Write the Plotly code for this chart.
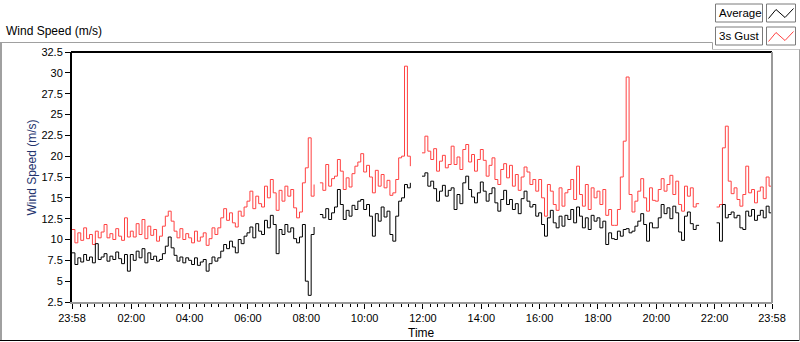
import plotly.graph_objects as go

# ---------------- data (6-minute samples starting 23:58) ----------------
step_minutes = 6
average = [
    8.4, 7.0, 7.8, 7.3, 8.2, 7.5, 7.9, 7.2, 9.5, 7.6,
    7.9, 8.3, 7.4, 8.0, 7.6, 8.5, 7.7, 7.1, 8.2, 6.2,
    8.2, 7.5, 8.6, 7.8, 8.9, 7.2, 8.4, 7.6, 8.0, 7.4,
    7.6, 8.3, 9.2, 10.3, 9.0, 8.1, 7.4, 7.9, 7.2, 7.8,
    7.5, 7.0, 7.8, 6.9, 7.3, 7.6, 6.2, 7.1, 7.9, 7.4,
    7.8, 8.6, 9.4, 8.9, 9.8, 9.1, 8.4, 10.0, 9.5, 10.4,
    10.8, 11.5, 10.2, 11.9, 11.0, 10.6, 12.3, 11.4, 12.9, 11.8,
    8.3, 11.2, 10.6, 11.8, 10.9, 11.4, 10.1, 9.6, 10.3, 11.8,
    5.0, 3.3, 10.6, 11.5, None, 13.0, 12.6, 13.7, 12.4, 13.2,
    13.9, 16.0, 14.2, 12.4, 13.5, 12.8, 14.1, 13.6, 14.6, 14.8,
    13.6, 14.2, 12.8, 10.4, 13.1, 12.2, 13.9, 12.7, 13.4, 10.6,
    9.8, 12.8, 14.6, 15.0, 16.6, 16.2, 16.8, None, None, None,
    17.6, 18.0, 16.4, 17.0, 16.1, 14.6, 15.8, 16.5, 15.2, 15.9,
    16.2, 13.6, 15.4, 14.3, 16.8, 17.6, 16.0, 15.1, 14.4, 15.6,
    16.9, 15.8, 14.6, 15.5, 16.2, 14.4, 13.4, 14.8, 15.9, 14.2,
    14.8, 13.6, 14.3, 13.1, 14.9, 15.8, 14.6, 13.9, 14.2, 12.8,
    13.2, 11.8, 10.4, 12.6, 13.5, 12.0, 11.4, 12.8, 11.6, 12.9,
    12.4, 13.6, 12.0, 13.9, 12.8, 11.4, 12.6, 11.2, 12.9, 12.2,
    12.6, 11.4, 12.2, 9.4, 10.8, 10.1, 10.0, 11.0, 10.4, 11.2,
    11.3, 10.8, 11.0, 11.6, 12.2, 13.1, 11.8, 9.8, 12.0, 11.4,
    11.4, 12.6, 14.2, 13.1, 13.8, 12.5, 14.0, 13.2, 10.9, 9.9,
    12.8, 13.3, 11.9, 11.2, 11.7, 11.7, None, None, None, None,
    None, 12.0, 9.8, 14.2, 12.6, 13.0, 13.3, 12.6, 12.9, 11.4,
    11.2, 13.4, 12.8, 13.6, 12.3, 12.9, 13.5, 12.6, 14.0, 13.2,
    13.6,
]
gust_3s = [
    11.2, 9.6, 10.8, 9.9, 11.4, 10.1, 10.6, 9.4, 11.0, 10.2,
    10.9, 11.8, 10.2, 10.7, 10.0, 11.3, 10.4, 9.9, 12.6, 10.3,
    11.0, 10.3, 11.9, 10.6, 12.4, 10.1, 11.6, 10.5, 11.2, 9.8,
    10.4, 11.6, 12.8, 13.4, 12.2, 11.0, 10.2, 11.3, 10.0, 10.7,
    10.2, 9.6, 11.0, 9.8, 10.3, 10.8, 9.3, 10.1, 11.4, 10.6,
    11.4, 12.6, 13.7, 12.3, 13.2, 12.0, 11.5, 13.4, 12.8, 13.9,
    14.6, 15.8, 13.7, 15.2, 14.3, 13.9, 16.4, 15.0, 17.2, 15.6,
    13.5, 15.9, 14.6, 16.4, 15.2, 16.0, 13.8, 12.6, 13.3, 16.8,
    18.6, 22.2, 15.2, 16.6, None, 16.8, 15.9, 19.0, 16.4, 17.3,
    17.6, 19.6, 18.2, 16.0, 17.4, 16.3, 17.9, 18.8, 19.3, 20.3,
    18.1, 18.9, 17.5, 15.6, 18.3, 16.4, 17.8, 16.2, 17.1, 15.3,
    15.6, 17.2, 19.8, 20.0, 30.8, 20.0, 18.8, None, None, None,
    20.4, 22.4, 20.6, 19.6, 20.9, 18.2, 19.4, 20.1, 18.6, 19.0,
    21.2, 19.0, 19.9, 18.4, 20.8, 21.4, 19.3, 20.2, 18.2, 19.6,
    20.8, 19.5, 17.6, 18.9, 19.8, 17.2, 16.6, 18.4, 19.1, 17.4,
    18.9, 16.4, 17.8, 15.9, 17.5, 18.7, 18.1, 16.6, 17.2, 15.8,
    17.2, 15.0, 12.8, 16.6, 15.8, 14.2, 13.5, 16.2, 14.0, 15.6,
    16.0, 17.2, 14.8, 18.8, 15.4, 14.0, 16.6, 13.6, 16.2, 15.0,
    15.8, 14.2, 16.0, 12.9, 13.6, 11.7, 11.7, 13.6, 17.5, 21.8,
    29.5, 15.4, 13.3, 14.6, 15.8, 17.3, 15.0, 13.4, 16.2, 14.7,
    14.6, 16.0, 17.3, 15.8, 16.6, 17.7, 15.4, 17.0, 14.2, 13.4,
    16.4, 15.2, 16.2, 13.9, 14.3, 14.3, None, None, None, None,
    None, 13.9, 14.2, 21.0, 23.6, 17.0, 15.5, 16.2, 14.8, 14.0,
    15.4, 18.8, 15.6, 16.0, 14.4, 15.8, 16.3, 14.9, 17.5, 16.4,
    16.8,
]
# minutes elapsed since 23:58
minutes = [i * step_minutes for i in range(len(average))]

x_tick_minutes = [0, 122, 242, 362, 482, 602, 722, 842, 962, 1082, 1202, 1322, 1440]
x_tick_labels = ["23:58", "02:00", "04:00", "06:00", "08:00", "10:00", "12:00",
                 "14:00", "16:00", "18:00", "20:00", "22:00", "23:58"]
y_ticks = [2.5, 5, 7.5, 10, 12.5, 15, 17.5, 20, 22.5, 25, 27.5, 30, 32.5]
y_tick_labels = ["2.5", "5", "7.5", "10", "12.5", "15", "17.5", "20", "22.5",
                 "25", "27.5", "30", "32.5"]
series_names = ["Average", "3s Gust"]
series_colors = ["#000000", "#ff4242"]

# ---------------- figure ----------------
L, T, W, H = 72, 52, 700, 250
FIG_W, FIG_H = 800, 342


def px(x):
    return (x - L) / W


def py(y):
    return (T + H - y) / H


FONT = "Liberation Sans, Arial, sans-serif"

fig = go.Figure()
fig.add_trace(go.Scatter(x=minutes, y=gust_3s, mode="lines", name=series_names[1],
                         line=dict(color=series_colors[1], width=1, shape="hv"),
                         connectgaps=False))
fig.add_trace(go.Scatter(x=minutes, y=average, mode="lines", name=series_names[0],
                         line=dict(color=series_colors[0], width=1, shape="hv"),
                         connectgaps=False))

fig.update_layout(
    width=FIG_W, height=FIG_H,
    margin=dict(l=L, r=FIG_W - L - W, t=T, b=FIG_H - T - H),
    paper_bgcolor="white", plot_bgcolor="white",
    showlegend=False,
    font=dict(family=FONT, size=11, color="#000000"),
)
fig.update_xaxes(
    range=[0, 1440], tickmode="array", tickvals=x_tick_minutes, ticktext=x_tick_labels,
    ticks="outside", ticklen=5, tickwidth=1, tickcolor="#000000",
    showline=True, linecolor="#9a9a9a", linewidth=2,
    showgrid=False, zeroline=False,
    tickfont=dict(family=FONT, size=11, color="#000000"),
    minor=dict(ticks="outside", ticklen=3, tickwidth=1, tickcolor="#000000",
               tickmode="linear", tick0=2, dtick=15, showgrid=False),
)
fig.update_yaxes(
    range=[2.5, 32.5], tickmode="array", tickvals=y_ticks, ticktext=y_tick_labels,
    ticks="outside", ticklen=5, tickwidth=1, tickcolor="#000000",
    showline=True, linecolor="#000000", linewidth=2,
    showgrid=False, zeroline=False,
    tickfont=dict(family=FONT, size=11, color="#000000"),
)

shapes = []


def line(x0, y0, x1, y1, color, width=1):
    shapes.append(dict(type="line", xref="paper", yref="paper",
                       x0=px(x0), y0=py(y0), x1=px(x1), y1=py(y1),
                       line=dict(color=color, width=width)))


def rect(x0, y0, x1, y1, line_color, fill):
    shapes.append(dict(type="rect", xref="paper", yref="paper",
                       x0=px(x0), y0=py(y0), x1=px(x1), y1=py(y1),
                       line=dict(color=line_color, width=1), fillcolor=fill))


# plot frame: top black, right gray
line(L - 1, T, L + W, T, "#000000", 2)
line(L + W, T, L + W, T + H + 1, "#9a9a9a", 2)
# outer panel frame
line(0, 42.5, 712.5, 42.5, "#a0a0a0", 1)
line(712.5, 42.5, 712.5, 49.5, "#a0a0a0", 1)
line(712.5, 49.5, 800, 49.5, "#c8c8c8", 1)
line(1, 42.5, 1, 341, "#a0a0a0", 2)
line(0, 340.5, 800, 340.5, "#000000", 1)
line(799.5, 49.5, 799.5, 341, "#a0a0a0", 1)

# legend boxes
rows = [13, 36]
for r, name, color in zip(rows, series_names, series_colors):
    rect(715.5, r - 9, 762.5, r + 9, "#7a7a7a", "white")
    rect(766.5, r - 9, 795.5, r + 9, "#7a7a7a", "white")
    pts = [(768.5, r + 5.5), (776, r - 3.5), (785, r + 4.5), (793.5, r - 4.5)]
    path = "M " + " L ".join(f"{px(a)},{py(b)}" for a, b in pts)
    shapes.append(dict(type="path", xref="paper", yref="paper", path=path,
                       line=dict(color=color, width=1)))
fig.update_layout(shapes=shapes)

annotations = [
    dict(text="Wind Speed (m/s)", x=px(4), y=py(31), xanchor="left", yanchor="middle",
         font=dict(family=FONT, size=12, color="#000000")),
    dict(text="Wind Speed (m/s)", x=px(31.5), y=py(168), xanchor="center", yanchor="middle",
         textangle=-90, font=dict(family=FONT, size=12, color="#23336e")),
    dict(text="Time", x=px(421), y=py(333), xanchor="center", yanchor="middle",
         font=dict(family=FONT, size=12, color="#000000")),
]
for r, name in zip(rows, series_names):
    annotations.append(dict(text=name, x=px(717), y=py(r), xanchor="left", yanchor="middle",
                            font=dict(family=FONT, size=11.5, color="#000000")))
for a in annotations:
    a.update(xref="paper", yref="paper", showarrow=False)
fig.update_layout(annotations=annotations)

fig.write_html("out.html",
               config={"displayModeBar": False, "staticPlot": True},
               post_script="document.body.style.margin='0';document.body.style.overflow='hidden';")
